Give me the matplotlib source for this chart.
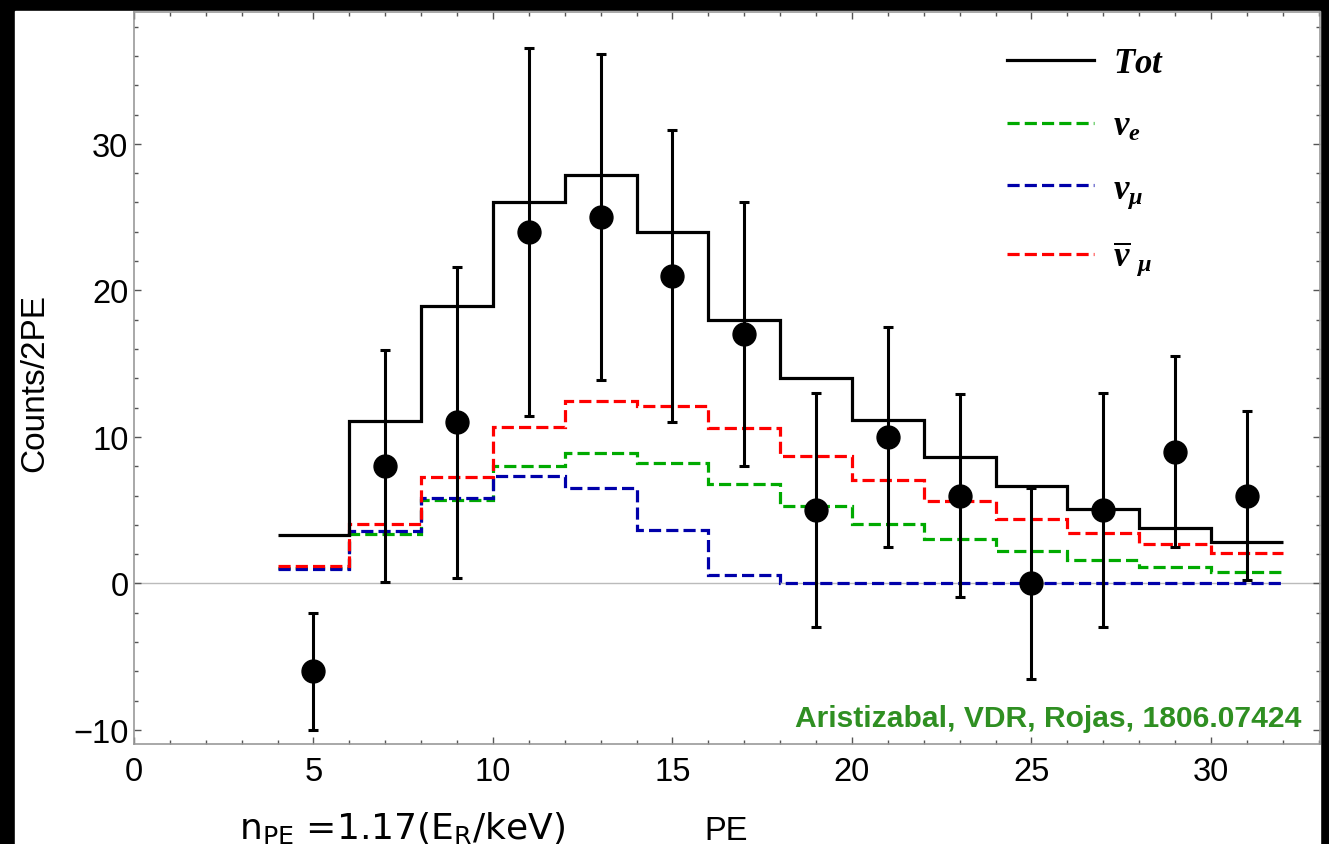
import matplotlib
matplotlib.use("Agg")
import matplotlib.pyplot as plt
from matplotlib.patches import Rectangle

# bins (PE) and the predicted spectra
bordes = [4, 6, 8, 10, 12, 14, 16, 18, 20, 22, 24, 26, 28, 30, 32]
tot = [3.3, 11.1, 18.9, 26.0, 27.9, 24.0, 17.95, 14.0, 11.15, 8.66, 6.68, 5.07, 3.81, 2.81]
nu_e = [1.04, 3.36, 5.68, 8.02, 8.89, 8.2, 6.79, 5.31, 4.04, 3.01, 2.22, 1.61, 1.15, 0.81]
nu_mu = [1.0, 3.6, 5.84, 7.34, 6.5, 3.67, 0.58, 0, 0, 0, 0, 0, 0, 0]
nu_mu_bar = [1.17, 4.06, 7.29, 10.66, 12.48, 12.1, 10.59, 8.73, 7.09, 5.61, 4.43, 3.47, 2.7, 2.06]

# datos medidos
x_datos = [5, 7, 9, 11, 13, 15, 17, 19, 21, 23, 25, 27, 29, 31]
y_datos = [-6, 8, 11, 24, 25, 21, 17, 5, 10, 6, 0, 5, 9, 6]
err_datos = [4, 7.9, 10.6, 12.55, 11.1, 9.95, 9, 8, 7.5, 6.95, 6.5, 8, 6.5, 5.8]

plt.rcParams['font.family'] = ['Liberation Sans', 'DejaVu Sans']
plt.rcParams['mathtext.fontset'] = 'custom'
plt.rcParams['mathtext.it'] = 'Liberation Serif:bold:italic'
plt.rcParams['mathtext.rm'] = 'Liberation Serif:bold'
plt.rcParams['mathtext.bf'] = 'Liberation Serif:bold'

W, H = 1329, 845
fig = plt.figure(figsize=(W / 100, H / 100), dpi=100, facecolor='black')
# white area of the screenshot
fig.patches.append(Rectangle((15 / W, 0), (1320 - 15) / W, (H - 12) / H,
                             transform=fig.transFigure, color='white', zorder=-10))

ax = fig.add_axes([134 / W, (H - 745) / H, (1320 - 134) / W, (745 - 13) / H])
ax.set_zorder(1)
ax.set_facecolor('white')

ax.axhline(0, color='#bbbbbb', lw=1.0, zorder=1)

lw = 2.3
guion = (0, (3.8, 1.6))
ax.stairs(tot, bordes, baseline=None, color='black', lw=lw, label='$Tot$', zorder=3)
ax.stairs(nu_e, bordes, baseline=None, color='#00aa00', lw=lw, linestyle=guion,
          label=r'$\nu_e$', zorder=2)
ax.stairs(nu_mu, bordes, baseline=None, color='#0000aa', lw=lw, linestyle=guion,
          label=r'$\nu_\mu$', zorder=2)
ax.stairs(nu_mu_bar, bordes, baseline=None, color='#ff0000', lw=lw, linestyle=guion,
          label=r'$\overline{\nu}\ _\mu$', zorder=2)

ax.errorbar(x_datos, y_datos, yerr=err_datos, fmt='o', color='black', ms=16.5,
            elinewidth=2.2, capsize=3.8, capthick=2.2, zorder=4)

ax.set_xlim(0, 33.04)
ax.set_ylim(-10.96, 39.0)
ax.set_xticks([0, 5, 10, 15, 20, 25, 30])
ax.set_xticks(range(0, 34), minor=True)
ax.set_yticks([-10, 0, 10, 20, 30])
ax.set_yticks(range(-10, 40, 2), minor=True)

for s in ax.spines.values():
    s.set_color('#999999')
    s.set_linewidth(1.2)
ax.tick_params(which='both', direction='in', top=True, right=True,
               color='#555555', width=1.0, labelsize=23.5)
ax.tick_params(which='major', length=5)
ax.tick_params(which='minor', length=3)
ax.tick_params(axis='x', pad=9)
ax.tick_params(axis='y', pad=4)

leg = ax.legend(loc='upper left', bbox_to_anchor=(0.736, 0.953), frameon=False,
                fontsize=25, handlelength=2.5, handletextpad=0.55,
                labelspacing=0.85, borderpad=0, borderaxespad=0)

ax.text(0.9845, 0.0246, 'Aristizabal, VDR, Rojas, 1806.07424', transform=ax.transAxes,
        ha='right', va='baseline', color='#2f8f22', fontsize=21.6, fontweight='bold')

fig.text(35 / W, 1 - 383 / H, 'Counts/2PE', rotation=90, ha='center', va='center',
         fontsize=24)
fig.text(239 / W, 1 - 840 / H, r'n$_\mathregular{PE}$ =1.17(E$_\mathregular{R}$/keV)',
         ha='left', va='baseline', fontsize=26, family='DejaVu Sans')
fig.text(704 / W, 1 - 840 / H, 'PE', ha='left', va='baseline', fontsize=23.5)

fig.savefig('out.png', dpi=100, facecolor=fig.get_facecolor())
